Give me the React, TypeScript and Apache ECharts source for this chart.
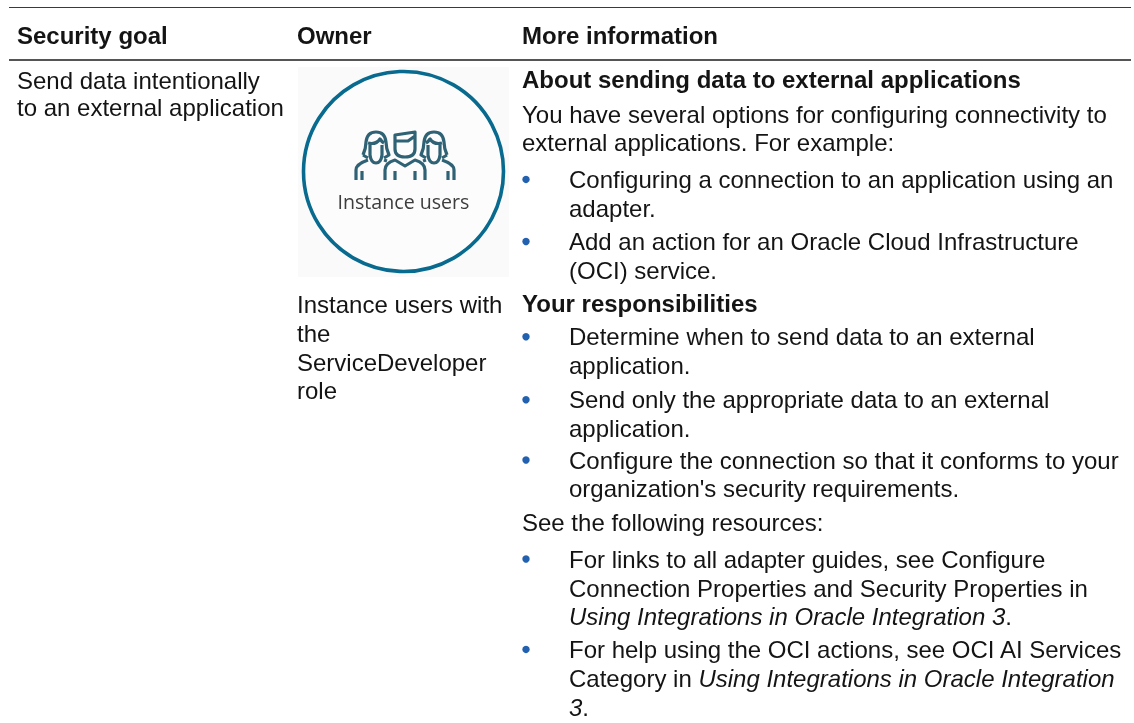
import React, { useEffect, useRef } from "react";
import * as echarts from "echarts";

const headers = ["Security goal", "Owner", "More information"];
const goalLines = ["Send data intentionally", "to an external application"];
const ownerLines = ["Instance users with", "the", "ServiceDeveloper", "role"];
const imageCaption = "Instance users";
const infoLines = [
  "{b|About sending data to external applications}",
  "You have several options for configuring connectivity to",
  "external applications. For example:",
  "Configuring a connection to an application using an",
  "adapter.",
  "Add an action for an Oracle Cloud Infrastructure",
  "(OCI) service.",
  "{b|Your responsibilities}",
  "Determine when to send data to an external",
  "application.",
  "Send only the appropriate data to an external",
  "application.",
  "Configure the connection so that it conforms to your",
  "organization's security requirements.",
  "See the following resources:",
  "For links to all adapter guides, see Configure",
  "Connection Properties and Security Properties in",
  "{i|Using Integrations in Oracle Integration 3}.",
  "For help using the OCI actions, see OCI AI Services",
  "Category in {i|Using Integrations in Oracle Integration}",
  "{i|3}.",
];

const infoY = [79.5, 114.4, 142.4, 179.4, 208, 241.5, 270.5, 303.4, 336.7, 365, 399.7, 428, 460, 488.4, 522, 559, 588, 616.5, 649.4, 678.4, 707];
const goalY = [80, 107];
const ownerY = [304.4, 333.4, 362.7, 390.7];
const infoIndented = new Set([3, 4, 5, 6, 8, 9, 10, 11, 12, 13, 15, 16, 17, 18, 19, 20]);
const bulletLines = [3, 5, 8, 10, 12, 15, 18];

const manPath =
  "M395 135 L415 132 L415 149 Q415 157 405 157 Q395 157 395 149 Z M395 141 L408 141 L415 136 " +
  "M385 180 L385 170 Q385 163 395 160 L405 166 L415 160 Q425 163 425 170 L425 180 M395 171 L395 180 M415 171 L415 180";
const womanPath =
  "M363 155 Q366 148 366 142 Q367 132 376 132 Q385 132 386 142 Q386 148 389 155 L384 158 M363 155 L368 158 " +
  "M368 143 Q376 145 380 139 Q382 142 384 143 " +
  "M370 145 L370 155 Q371 163 376 163 Q381 163 382 155 L382 145 " +
  "M356 180 L356 170 Q356 164 368 160 M362 171 L362 180 M384 160 L387 161";

echarts.graphic.registerShape("manIcon", echarts.graphic.extendPath(manPath, {}));
echarts.graphic.registerShape("womanIcon", echarts.graphic.extendPath(womanPath, {}));

const FONT = '"Liberation Sans", Arial, sans-serif';
const SIZE = 24;
const INK = "#141414";

function label(text: string, x: number, y: number, bold = false) {
  return {
    type: "text",
    x,
    y,
    silent: true,
    style: {
      text,
      x: 0,
      y: 0,
      fill: INK,
      font: `${bold ? "bold " : ""}${SIZE}px ${FONT}`,
      verticalAlign: "middle",
      align: "left",
      rich: {
        b: { fontFamily: FONT, fontSize: SIZE, fontWeight: "bold", fill: INK, color: INK },
        i: { fontFamily: FONT, fontSize: SIZE, fontStyle: "italic", fill: INK, color: INK },
      },
    },
  };
}

export default function App() {
  const ref = useRef<HTMLDivElement>(null);
  useEffect(() => {
    document.body.style.margin = "0";
    const chart = echarts.init(ref.current!, undefined, { renderer: "svg" });
    const iconStyle = { fill: "none", stroke: "#2f6274", lineWidth: 3.2, lineJoin: "round" };
    const elements: any[] = [
      { type: "rect", shape: { x: 0, y: 0, width: 1134, height: 723 }, style: { fill: "#ffffff" }, silent: true },
      { type: "line", shape: { x1: 9, y1: 7.5, x2: 1131, y2: 7.5 }, style: { stroke: "#3a3a3a", lineWidth: 1 }, silent: true },
      { type: "line", shape: { x1: 9, y1: 60, x2: 1131, y2: 60 }, style: { stroke: "#1c1c1c", lineWidth: 1.4 }, silent: true },
      label(headers[0], 17, 35, true),
      label(headers[1], 297, 35, true),
      label(headers[2], 522, 35, true),
      { type: "rect", shape: { x: 298, y: 67, width: 211, height: 210 }, style: { fill: "#fbfafa" }, silent: true },
      { type: "circle", shape: { cx: 403.5, cy: 171.5, r: 100 }, style: { fill: "#fdfcfc", stroke: "#076a8e", lineWidth: 3.6 }, silent: true },
      { type: "womanIcon", style: iconStyle, silent: true },
      { type: "womanIcon", x: 810, scaleX: -1, style: iconStyle, silent: true },
      { type: "manIcon", style: iconStyle, silent: true },
      {
        type: "text",
        x: 403.5,
        y: 201,
        silent: true,
        style: { text: imageCaption, fill: "#3d3d3d", font: '19.6px "Open Sans", sans-serif', align: "center", verticalAlign: "middle" },
      },
    ];
    goalLines.forEach((t, i) => elements.push(label(t, 17, goalY[i])));
    ownerLines.forEach((t, i) => elements.push(label(t, 297, ownerY[i])));
    infoLines.forEach((t, i) => elements.push(label(t, infoIndented.has(i) ? 569 : 522, infoY[i])));
    bulletLines.forEach((i) =>
      elements.push({ type: "circle", shape: { cx: 526, cy: infoY[i], r: 3.7 }, style: { fill: "#2261b0" }, silent: true })
    );
    chart.setOption({ animation: false, graphic: { elements } });
    return () => chart.dispose();
  }, []);
  return <div ref={ref} style={{ position: "fixed", left: 0, top: 0, width: 1134, height: 723 }} />;
}
